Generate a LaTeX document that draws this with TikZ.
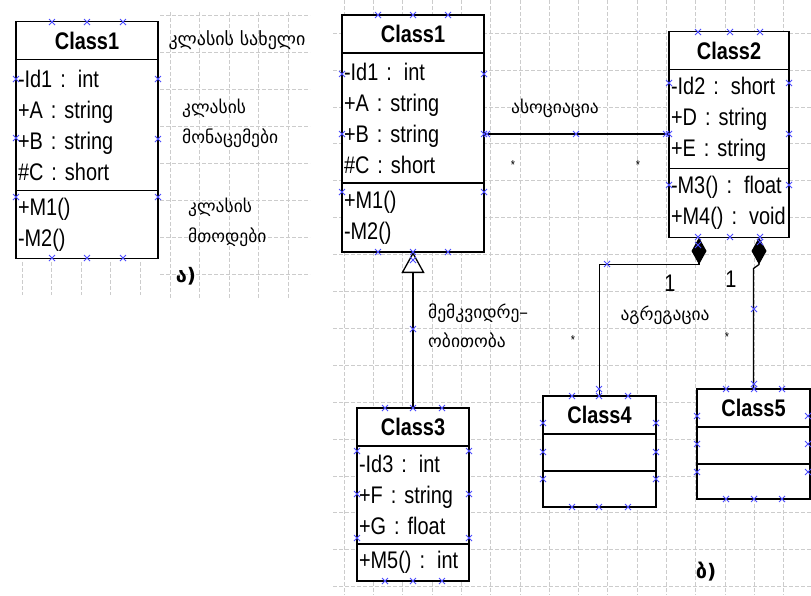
\documentclass[tikz,border=0pt]{standalone}
\usepackage{fontspec}
\setmainfont{Liberation Sans}[FakeStretch=0.83]
\newfontfamily\geo{DejaVu Sans}
\usetikzlibrary{positioning, calc, arrows.meta}

\tikzset{
  clshead/.style={draw, fill=white, line width=1.3pt, outer sep=0pt, inner xsep=2pt, inner ysep=0pt,
    text width=#1, align=center, minimum height=38pt, font=\fontsize{24}{28}\selectfont\bfseries},
  clspart/.style 2 args={draw, fill=white, line width=1.3pt, outer sep=0pt, inner xsep=2pt, inner ysep=0pt,
    text width=#1, align=left, minimum height=#2, font=\fontsize{24}{31}\selectfont},
  geolbl/.style={font=\geo\fontsize{17.5}{30}\selectfont, align=left, inner sep=0pt},
  mult/.style={font=\fontsize{13}{13}\selectfont, inner sep=0pt},
  link/.style={line width=1.3pt},
  grd/.style={gray!40, line width=0.6pt, dash pattern=on 4pt off 2pt},
  hdl/.pic={\draw[blue!70, line width=0.8pt] (-3,-3) -- (3,3) (-3,3) -- (3,-3);}
}

\begin{document}
\begin{tikzpicture}[x=1pt, y=-1pt]
  \useasboundingbox (0,0) rectangle (811,595);

  % background grid
  \foreach \gx in {0,...,15} \draw[grd] (344+29.3*\gx,0) -- (344+29.3*\gx,595);
  \foreach \gy in {0,...,15} \draw[grd] (333,33+36.9*\gy) -- (811,33+36.9*\gy);
  \foreach \gx in {0,...,4} \draw[grd] (170+29.5*\gx,12) -- (170+29.5*\gx,298);
  \foreach \gy in {0,...,7} \draw[grd] (160,15+37*\gy) -- (310,15+37*\gy);
  \foreach \gx in {0,...,4} \draw[grd] (22+29.5*\gx,262) -- (22+29.5*\gx,295);

  % a) single class with its parts named
  \node[clshead=138pt] (c1a) at (87,40.5) {Class1};
  \node[clspart={138pt}{131pt}, below=0pt of c1a] (c1a-attr) {-Id1 : int\\+A : string\\+B : string\\\#C : short};
  \node[clspart={138pt}{68pt}, below=0pt of c1a-attr] (c1a-meth) {+M1()\\-M2()};

  \node[geolbl, font=\geo\fontsize{18}{30}\selectfont] (lbl-name) at (237,40) {კლასის სახელი};
  \node[geolbl, anchor=west] (lbl-data) at (182,123) {კლასის\\მონაცემები};
  \node[geolbl, anchor=west] (lbl-meth) at (188,222.5) {კლასის\\მთოდები};
  \node[font=\geo\bfseries\fontsize{20}{20}\selectfont] (lbl-a) at (186,276) {ა)};

  % b) classes
  \node[clshead=138pt] (c1b) at (413,34) {Class1};
  \node[clspart={138pt}{130pt}, below=0pt of c1b] (c1b-attr) {-Id1 : int\\+A : string\\+B : string\\\#C : short};
  \node[clspart={138pt}{69pt}, below=0pt of c1b-attr] (c1b-meth) {+M1()\\-M2()};

  \node[clshead=116pt] (c2) at (729,50.5) {Class2};
  \node[clspart={116pt}{99pt}, below=0pt of c2] (c2-attr) {-Id2 : short\\+D : string\\+E : string};
  \node[clspart={116pt}{69pt}, below=0pt of c2-attr] (c2-meth) {-M3() : float\\+M4() : void};

  \node[clshead=108pt] (c3) at (413,427) {Class3};
  \node[clspart={108pt}{98pt}, below=0pt of c3] (c3-attr) {-Id3 : int\\+F : string\\+G : float};
  \node[clspart={108pt}{37pt}, below=0pt of c3-attr] (c3-meth) {+M5() : int};

  \node[clshead=109pt] (c4) at (599.5,415) {Class4};
  \node[clspart={109pt}{37pt}, below=0pt of c4] (c4-attr) {};
  \node[clspart={109pt}{36pt}, below=0pt of c4-attr] (c4-meth) {};

  \node[clshead=109pt] (c5) at (753.5,408) {Class5};
  \node[clspart={109pt}{37pt}, below=0pt of c5] (c5-attr) {};
  \node[clspart={109pt}{35pt}, below=0pt of c5-attr] (c5-meth) {};

  % association
  \coordinate (assoc) at (576,134);
  \draw[link] (c1b-attr.east |- assoc) -- (c2-attr.west |- assoc);
  \node[geolbl] (lbl-assoc) at (555,108) {ასოციაცია};
  \node[mult] at (513,165) {*};
  \node[mult] at (638,165) {*};

  % generalization
  \draw[link, -{Triangle[open, length=21pt, width=23pt, line width=1.3pt]}] (c3.north) -- (c1b-meth.south);
  \node[geolbl, anchor=west, font=\geo\fontsize{17.5}{29}\selectfont] (lbl-inh) at (428,325.5) {მემკვიდრე–\\ობითობა};

  % composition to Class4 and Class5
  \coordinate (c2-a1) at ($(c2-meth.south west)!.25!(c2-meth.south east)$);
  \coordinate (c2-a3) at ($(c2-meth.south west)!.75!(c2-meth.south east)$);
  \coordinate (j5) at ($(c2-a3)+(0,31)$);
  \draw[link, -{Diamond[length=27pt, width=15pt]}] (c4.north) |- ($(c2-a1)+(0,27)$) -- (c2-a1);
  \draw[link, -{Diamond[length=27pt, width=15pt]}] (c5.north) -- (c5.north |- j5) -- ($(c2-a3)+(0,27)$) -- (c2-a3);
  \node[font=\fontsize{24}{24}\selectfont] at (670,283) {1};
  \node[font=\fontsize{24}{24}\selectfont] at (731,279) {1};
  \node[geolbl] (lbl-agg) at (665,315) {აგრეგაცია};
  \node[mult] at (573,340) {*};
  \node[mult] at (727,337) {*};
  \node[font=\geo\bfseries\fontsize{20}{20}\selectfont] (lbl-b) at (706,572) {ბ)};

  % selection handles
  \foreach \p in {(52,22),(87,22),(123,22),(16,79),(16,138),(16,197),(158,79),(158,139),(158,197),
    (52,258),(87,258),(123,258),
    (378,15),(413,15),(448,15),(342,74),(342,134),(342,192),(484,74),(484,134),(484,192),
    (378,252),(413,252),(448,252),(413,260),(487,134),(576,134),(666,134),(669,134),
    (698,32),(730,32),(760,32),(669,83),(669,185),(789,83),(789,134),(789,185),
    (698,237),(730,237),(760,237),(698,245),(760,242),
    (385,408),(413,408),(442,408),(357,451),(357,494),(357,538),(469,451),(469,494),(469,538),
    (385,581),(413,581),(442,581),(413,329),
    (572,396),(599,396),(628,396),(599,389),(543,423),(543,452),(543,479),(656,423),(656,452),(656,479),
    (572,507),(599,507),(628,507),(607,264),
    (726,389),(754,389),(782,389),(754,384),(697,416),(697,444),(697,472),(808,416),(808,444),(808,472),
    (726,499),(754,499),(782,499),(754,309)}
    \pic at \p {hdl};
\end{tikzpicture}
\end{document}
